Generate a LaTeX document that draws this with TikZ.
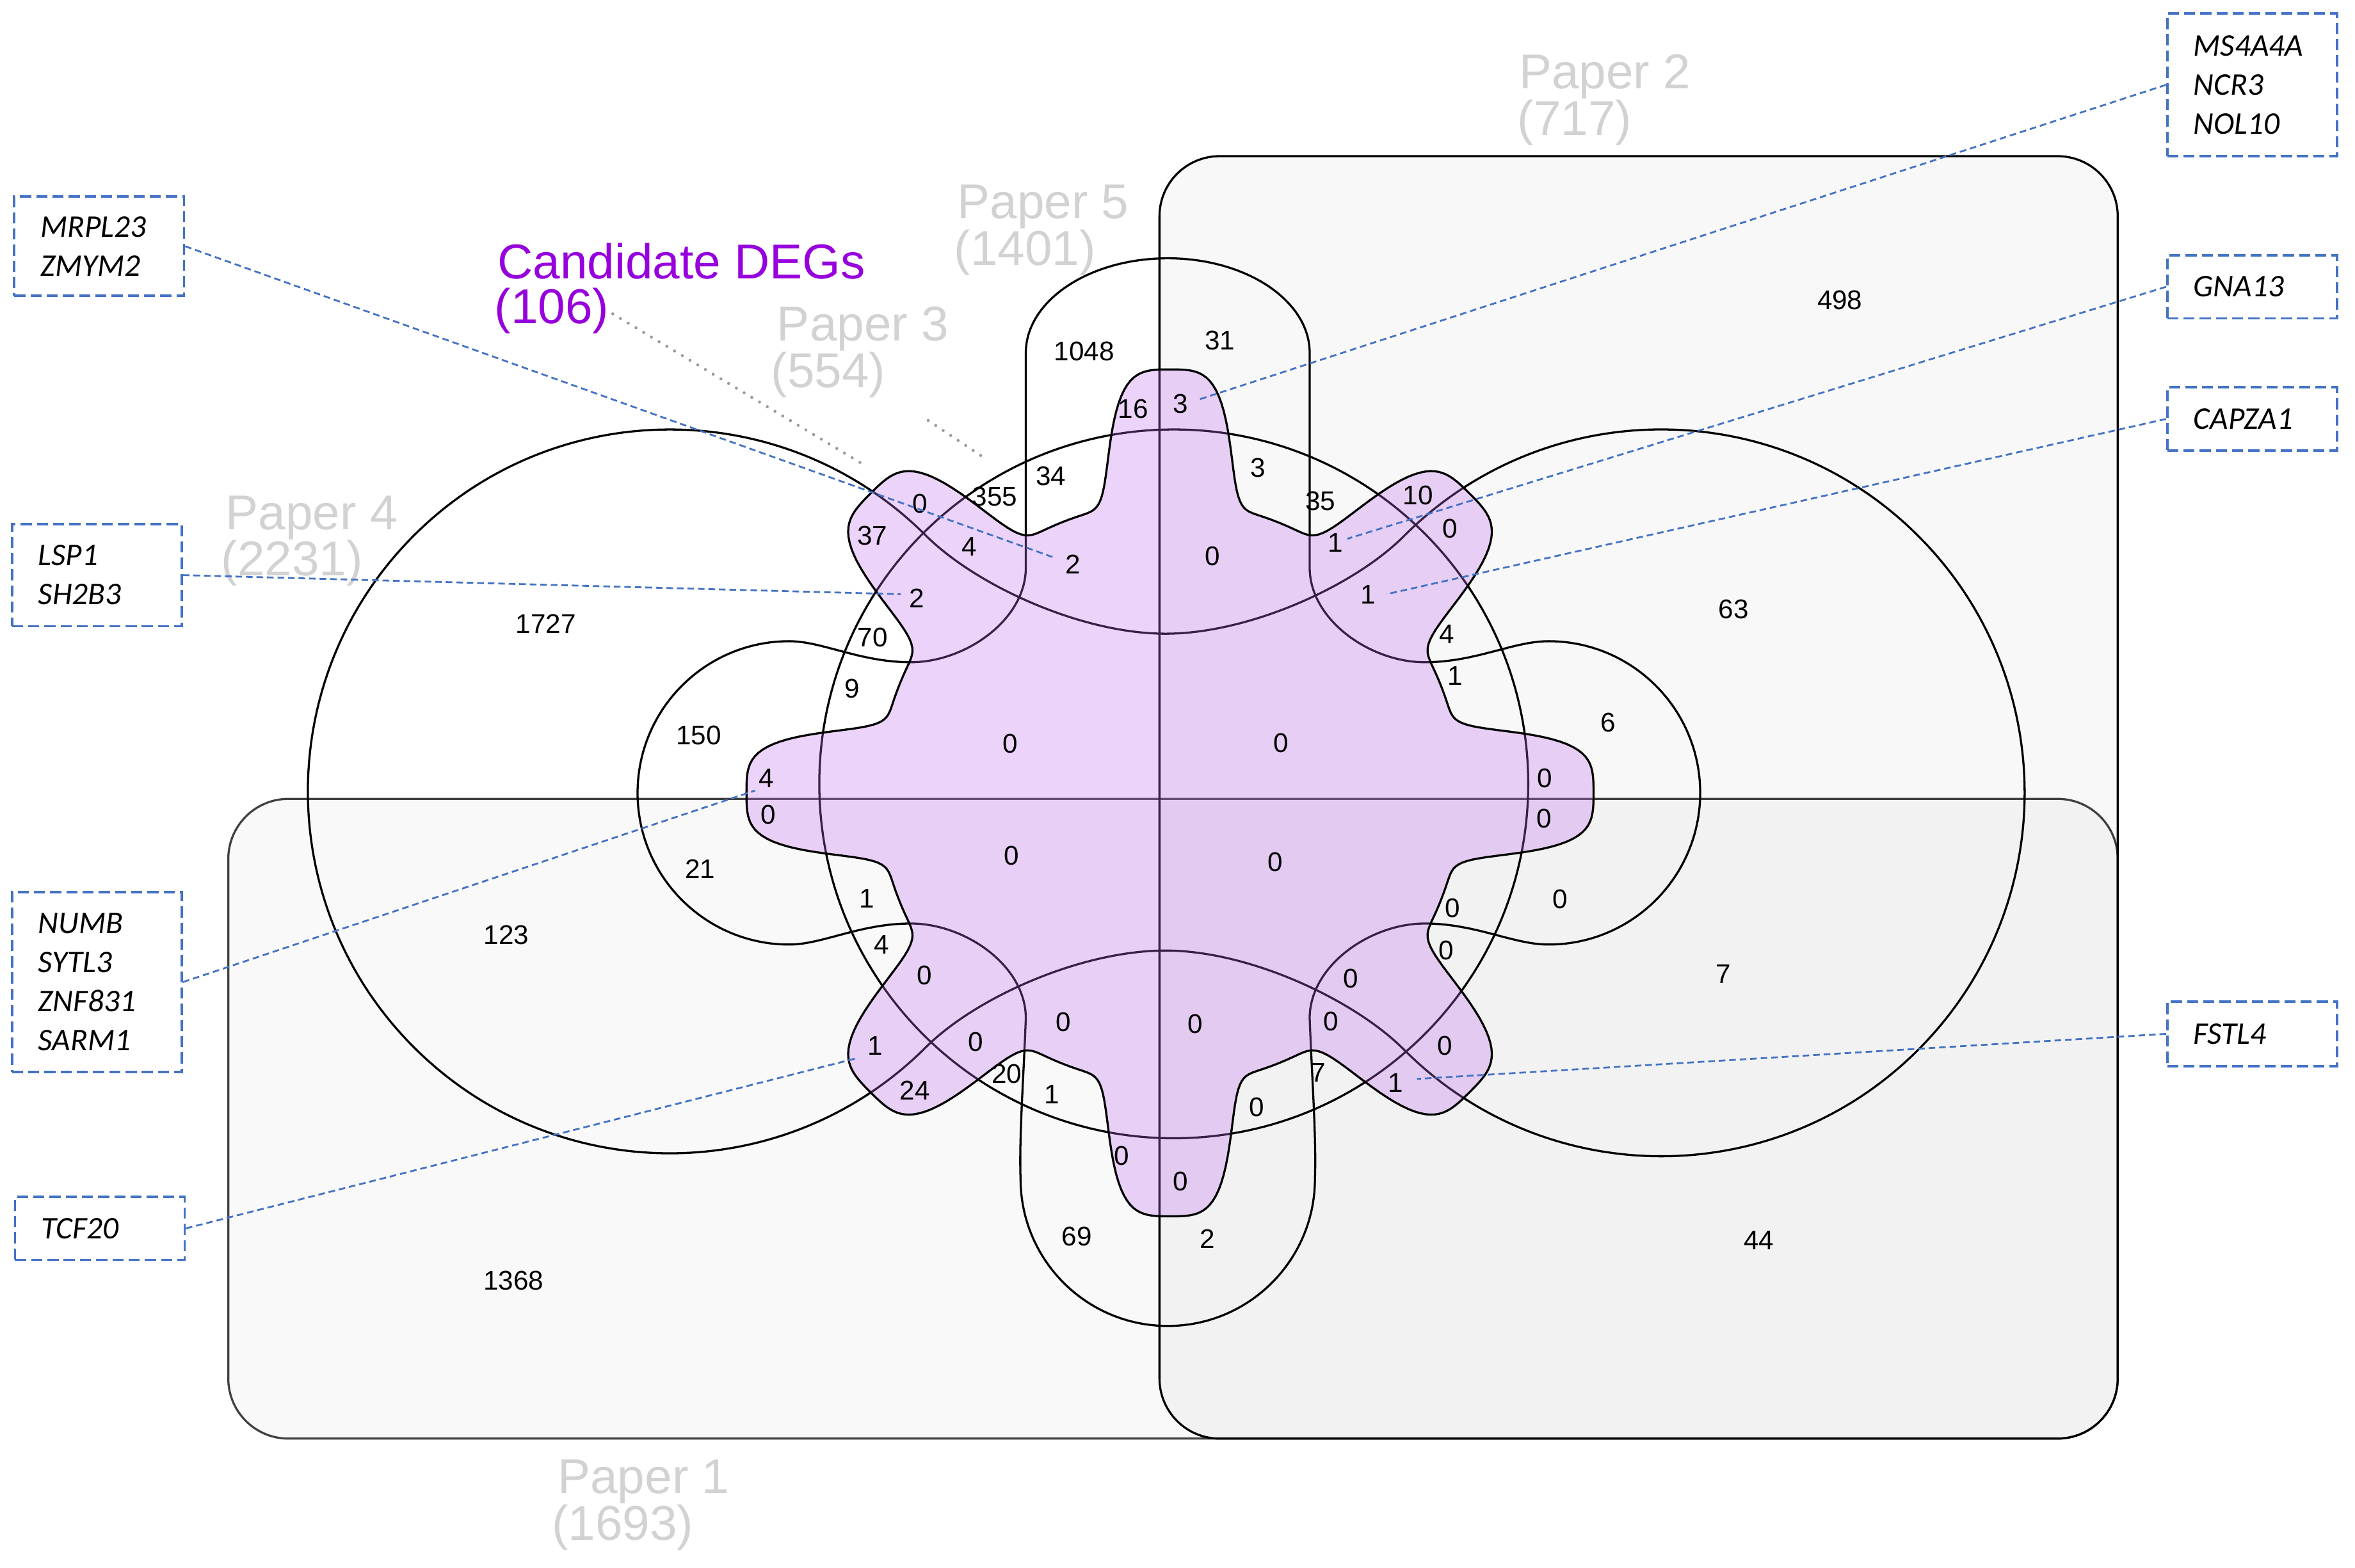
\documentclass[tikz,border=0pt]{standalone}
\usepackage{fontspec}
\setmainfont{Liberation Sans}
\newfontfamily\genefont{Carlito}
\definecolor{lblgray}{RGB}{210,210,210}
\definecolor{candpurple}{RGB}{150,0,220}
\definecolor{boxblue}{RGB}{68,114,196}
\definecolor{flowerfill}{RGB}{190,110,235}
\begin{document}
\begin{tikzpicture}[x=0.5pt,y=-0.5pt,
  setline/.style={line width=0.7pt, draw=black},
  num/.style={font=\fontsize{9}{10}\selectfont, inner sep=0pt, anchor=center},
  lbl/.style={font=\fontsize{16.3}{18}\selectfont, text=lblgray, anchor=base west, inner sep=0pt},
  lbltop/.style={lbl, text depth=0pt},
  cand/.style={font=\fontsize{16.3}{18}\selectfont, text=candpurple, anchor=base west, inner sep=0pt},
  candtop/.style={cand, text depth=0pt},
  genebox/.style={draw=boxblue, line width=0.8pt, dash pattern=on 3.7pt off 1.7pt,
     font=\genefont\itshape\fontsize{10.5}{13}\selectfont, align=left, text width=39pt,
     inner xsep=8.75pt, inner ysep=0pt, anchor=center},
  link/.style={draw=boxblue, line width=0.6pt, dash pattern=on 2.2pt off 1.3pt},
  dots/.style={draw=black!40, line width=1pt, dash pattern=on 0pt off 3pt, line cap=round},
  declare function={
    fk(\q)=round(\q/45);
    fd(\q)=abs(\q-45*fk(\q));
    fw(\q)=ifthenelse(mod(fk(\q),2)==0,10.5,11.5);
    fr(\q)=194+88*exp(-min(9,(fd(\q)/fw(\q))^4));
  }]
\useasboundingbox (0,0) rectangle (1568,1044);

% rectangles (Paper 1, Paper 2)
\fill[black, fill opacity=0.022, rounded corners=20pt] (152,532) rectangle (1410,958);
\fill[black, fill opacity=0.026, rounded corners=20pt] (772,104) rectangle (1410,958);
\draw[line width=0.7pt, draw=black!75, rounded corners=20pt] (152,532) rectangle (1410,958);
\draw[setline, rounded corners=20pt] (772,104) rectangle (1410,958);

% Paper 3 circle
\draw[setline] (781.5,522) circle[radius=236];

% Paper 4 (two large lobes with waist)
\draw[setline] (616.4,356.6) arc[start angle=-45, end angle=-315, radius=241]
  .. controls (650,664) and (720,633) .. (776,633)
  .. controls (832,633) and (902,666) .. (934.9,699.1)
  arc[start angle=135, end angle=-135, radius=242]
  .. controls (902,390) and (832,422) .. (776,422)
  .. controls (720,422) and (650,390) .. (616.4,356.6) -- cycle;

% Paper 5 (cross shape)
\draw[setline, shift={(777.5,528)}] (-94.5,-150)
  .. controls (-94.5,-115) and (-135,-87) .. (-171,-87)
  .. controls (-205,-87) and (-230,-101) .. (-252,-101)
  arc[start angle=-90, end angle=-270, radius=101]
  .. controls (-230,101) and (-205,87) .. (-171,87)
  .. controls (-135,87) and (-94.5,115) .. (-94.5,150)
  .. controls (-96,190) and (-99,230) .. (-98,257)
  arc[start angle=180, end angle=0, radius=98]
  .. controls (99,230) and (96,190) .. (94.5,150)
  .. controls (94.5,115) and (135,87) .. (171,87)
  .. controls (205,87) and (230,101) .. (253.5,101)
  arc[start angle=90, end angle=-90, radius=101]
  .. controls (230,-101) and (205,-87) .. (171,-87)
  .. controls (135,-87) and (94.5,-115) .. (94.5,-150)
  -- (94.5,-293)
  arc[start angle=0, end angle=-180, x radius=94.5, y radius=63]
  -- cycle;

% Candidate DEGs flower
\fill[flowerfill, fill opacity=0.3] plot[domain=0:359.5, samples=720] ({779+fr(\x)*cos(\x)},{528-fr(\x)*sin(\x)}) -- cycle;
\draw[setline] plot[domain=0:359.5, samples=720] ({779+fr(\x)*cos(\x)},{528-fr(\x)*sin(\x)}) -- cycle;

% dotted pointers
\coordinate (cd1) at (408,209); \coordinate (cd2) at (576,310);
\coordinate (p3a) at (618,280); \coordinate (p3b) at (657,306);
\draw[dots] (cd1) -- (cd2);
\draw[dots] (p3a) -- (p3b);

% labels
\node[lbltop] (l2a) at (1011,59) {Paper 2};
\node[lbl] (l2b) at (1010,90) {(717)};
\node[lbltop] (l5a) at (637,145.5) {Paper 5};
\node[lbl] (l5b) at (635,176.5) {(1401)};
\node[lbltop] (l3a) at (517,227) {Paper 3};
\node[lbl] (l3b) at (513,258) {(554)};
\node[lbltop] (l4a) at (150,352.5) {Paper 4};
\node[lbl] (l4b) at (147,383.5) {(2231)};
\node[lbltop] (l1a) at (371,994.5) {Paper 1};
\node[lbl] (l1b) at (367,1025.5) {(1693)};
\node[candtop] (lca) at (331,185.5) {Candidate DEGs};
\node[cand] (lcb) at (329,215.5) {(106)};

% region counts
\node[num] (n1) at (1225,200) {498};
\node[num] (n2) at (721.8,234) {1048};
\node[num] (n3) at (812.3,226.7) {31};
\node[num] (n4) at (754.4,272.3) {16};
\node[num] (n5) at (786.2,269.1) {3};
\node[num] (n6) at (699.7,317.2) {34};
\node[num] (n7) at (837.6,311.5) {3};
\node[num] (n8) at (662.4,330.5) {355};
\node[num] (n9) at (879.2,333.5) {35};
\node[num] (n10) at (612.5,335.6) {0};
\node[num] (n11) at (580.9,356.6) {37};
\node[num] (n12) at (645.4,363.8) {4};
\node[num] (n13) at (714.4,375.6) {2};
\node[num] (n14) at (807.4,370.2) {0};
\node[num] (n15) at (944.2,329.8) {10};
\node[num] (n16) at (965.6,351.9) {0};
\node[num] (n17) at (889,361.2) {1};
\node[num] (n18) at (910.8,396) {1};
\node[num] (n19) at (610.4,398.4) {2};
\node[num] (n20) at (363.4,415.4) {1727};
\node[num] (n21) at (1154.2,405.9) {63};
\node[num] (n22) at (581,424.5) {70};
\node[num] (n23) at (963.2,422.2) {4};
\node[num] (n24) at (567.2,458.7) {9};
\node[num] (n25) at (969,450.1) {1};
\node[num] (n26) at (465.2,489.7) {150};
\node[num] (n27) at (1070.5,481.3) {6};
\node[num] (n28) at (672.6,495.3) {0};
\node[num] (n29) at (853,495) {0};
\node[num] (n30) at (510.1,518.3) {4};
\node[num] (n31) at (511.7,542.7) {0};
\node[num] (n32) at (1028.7,518.2) {0};
\node[num] (n33) at (1028,545.2) {0};
\node[num] (n34) at (673.6,570) {0};
\node[num] (n35) at (849,574) {0};
\node[num] (n36) at (466.1,578.6) {21};
\node[num] (n37) at (577,598.2) {1};
\node[num] (n38) at (967.2,604.7) {0};
\node[num] (n39) at (1038.8,598.6) {0};
\node[num] (n40) at (337.2,622.7) {123};
\node[num] (n41) at (586.8,629.2) {4};
\node[num] (n42) at (963,633) {0};
\node[num] (n43) at (615.4,649.7) {0};
\node[num] (n44) at (899.5,651.5) {0};
\node[num] (n45) at (1147.4,648.5) {7};
\node[num] (n46) at (708,680.7) {0};
\node[num] (n47) at (796,682) {0};
\node[num] (n48) at (886,680) {0};
\node[num] (n49) at (649.5,694) {0};
\node[num] (n50) at (582.6,696.4) {1};
\node[num] (n51) at (962.2,696.4) {0};
\node[num] (n52) at (670.3,715.1) {20};
\node[num] (n53) at (609.1,726.3) {24};
\node[num] (n54) at (700.5,728.8) {1};
\node[num] (n55) at (877.5,714.3) {7};
\node[num] (n56) at (929.2,721.2) {1};
\node[num] (n57) at (836.7,737.2) {0};
\node[num] (n58) at (747,769.8) {0};
\node[num] (n59) at (786.2,786.9) {0};
\node[num] (n60) at (716.9,823.6) {69};
\node[num] (n61) at (804.1,825.2) {2};
\node[num] (n62) at (1171,826) {44};
\node[num] (n63) at (342,853) {1368};

% gene boxes
\node[genebox, minimum height=33pt] (b1) at (66,164) {MRPL23\\ZMYM2};
\node[genebox, minimum height=34pt] (b2) at (64.5,383) {LSP1\\SH2B3};
\node[genebox, minimum height=60pt] (b3) at (64.5,654) {NUMB\\SYTL3\\ZNF831\\SARM1};
\node[genebox, minimum height=21pt] (b4) at (66.5,818) {TCF20};
\node[genebox, minimum height=47.5pt] (b5) at (1499.5,56.5) {MS4A4A\\NCR3\\NOL10};
\node[genebox, minimum height=21pt] (b6) at (1499.5,191) {GNA13};
\node[genebox, minimum height=21pt] (b7) at (1499.5,279) {CAPZA1};
\node[genebox, minimum height=21.5pt] (b8) at (1499.5,688.5) {FSTL4};

% connector ends
\coordinate (e1) at (701.5,371.2);
\coordinate (e2) at (599.6,395.7);
\coordinate (e3) at (502.7,526.5);
\coordinate (e4) at (569.7,704.9);
\coordinate (e5) at (799,265.8);
\coordinate (e6) at (897,358.8);
\coordinate (e7) at (923.1,395.7);
\coordinate (e8) at (943.5,718.5);
\draw[link] (b1.east) -- (e1);
\draw[link] (b2.east) -- (e2);
\draw[link] (b3.east) -- (e3);
\draw[link] (b4.east) -- (e4);
\draw[link] (b5.west) -- (e5);
\draw[link] (b6.west) -- (e6);
\draw[link] (b7.west) -- (e7);
\draw[link] (b8.west) -- (e8);
\end{tikzpicture}
\end{document}
